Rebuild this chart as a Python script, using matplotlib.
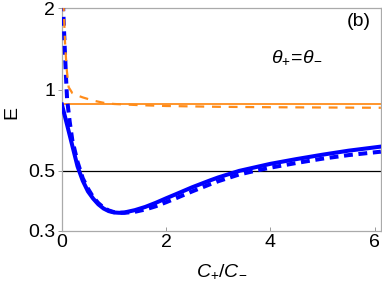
import matplotlib.pyplot as plt

plt.rcParams['font.family'] = 'Liberation Sans'
plt.rcParams['mathtext.fontset'] = 'custom'
plt.rcParams['mathtext.rm'] = 'Liberation Sans'
plt.rcParams['mathtext.it'] = 'Liberation Sans:italic'

# curves (x = C+/C-, y = E)
x_solid = [0, 0.1, 0.2, 0.3, 0.4, 0.5, 0.6, 0.7, 0.8, 0.9, 1.0, 1.1, 1.2, 1.4, 1.6,
           1.8, 2.0, 2.2, 2.5, 2.84, 3.0, 3.4, 4.0, 4.5, 5.0, 5.5, 6.12]
e_solid = [0.88, 0.74, 0.62, 0.52, 0.46, 0.42, 0.395, 0.376, 0.363, 0.355, 0.351, 0.350,
           0.351, 0.358, 0.368, 0.381, 0.396, 0.411, 0.435, 0.461, 0.473, 0.50, 0.531,
           0.553, 0.574, 0.594, 0.615]

x_dash = [0.02, 0.05, 0.08, 0.1, 0.15, 0.2, 0.3, 0.4, 0.5, 0.6, 0.7, 0.8, 0.9, 1.0, 1.1,
          1.2, 1.4, 1.6, 1.8, 2.0, 2.2, 2.5, 2.84, 3.0, 3.4, 3.7, 4.0, 4.5, 5.0, 5.5, 6.12]
e_dash = [2.1, 1.5, 1.1, 0.92, 0.76, 0.65, 0.54, 0.47, 0.43, 0.40, 0.38, 0.366, 0.357,
          0.352, 0.350, 0.350, 0.353, 0.36, 0.370, 0.383, 0.397, 0.42, 0.446, 0.458,
          0.485, 0.50, 0.514, 0.535, 0.555, 0.572, 0.589]

x_orange_dash = [0.03, 0.06, 0.09, 0.13, 0.2, 0.3, 0.4, 0.6, 0.8, 1.0, 1.5, 2.0, 3.0,
                 4.0, 5.0, 6.12]
e_orange_dash = [2.1, 1.5, 1.2, 1.02, 0.97, 0.95, 0.935, 0.91, 0.893, 0.884, 0.875,
                 0.869, 0.863, 0.86, 0.858, 0.856]

e_orange_level = 0.886
e_half = 0.5

blue = '#0000ff'
orange = '#ff8c1a'

fig = plt.figure(figsize=(3.82, 2.89), dpi=100)
ax = fig.add_axes([0.162, 0.201, 0.835, 0.771])

ax.axhline(e_half, color='black', lw=0.9, zorder=1)
ax.axhline(e_orange_level, color=orange, lw=1.3, zorder=2)
ax.plot(x_solid, e_solid, color=blue, lw=2.9, zorder=4)
ax.plot(x_dash, e_dash, color=blue, lw=2.9, dashes=(2.2, 1.4), zorder=5)
ax.plot(x_orange_dash, e_orange_dash, color=orange, lw=1.6, dashes=(4, 3.5), zorder=6)

ax.set_yscale('log')
ax.set_xlim(0, 6.12)
ax.set_ylim(0.3, 2.0)
ax.set_xticks([0, 2, 4, 6])
ax.set_yticks([0.3, 0.5, 1, 2])
ax.set_yticklabels(['0.3', '0.5', '1', '2'])
ax.minorticks_off()
ax.tick_params(labelsize=14, color='#999999', length=3, width=0.7, pad=2)
ax.tick_params(axis='x', direction='in')
for s in ax.spines.values():
    s.set_color('#aaaaaa')
    s.set_linewidth(0.9)

ax.set_xlabel(r'$C_{+}/C_{-}$', fontsize=14, labelpad=8)
ax.set_ylabel('E', fontsize=14, rotation=90)
ax.yaxis.set_label_coords(-0.13, 0.53)

ax.text(5.7, 1.785, '(b)', fontsize=14, ha='center', va='center')
ax.text(4.5, 1.32, r'$\theta_{+}\!=\!\theta_{-}$', fontsize=14, ha='center', va='center')

fig.savefig('out.png', dpi=100)
